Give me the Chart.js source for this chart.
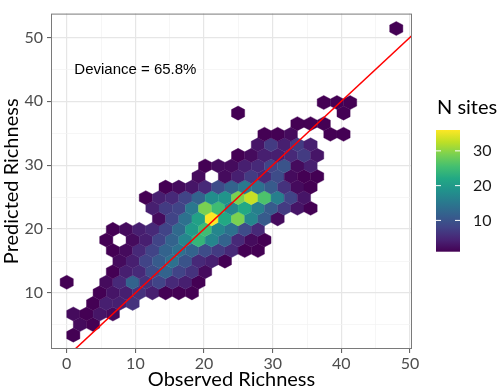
<!DOCTYPE html>
<html lang="en">
<head>
<meta charset="UTF-8">
<title>Predicted vs Observed Richness</title>
<script src="https://cdn.jsdelivr.net/npm/chart.js"></script>
<style>
  body { margin: 0; background: #fff; }
  canvas { display: block; }
</style>
</head>
<body>
<canvas id="hexChart" width="498" height="392"></canvas>
<script>
// hexbin grid. rows counted from the bottom,
// odd rows sit on x = 0, 1.92, 3.84 ... even rows are shifted half a bin
const binW = 1.92;
const binH = 1.655;
const yStart = 3.4;

// row index, first column in that row, counts per column (0 = empty bin)
const hexRow   = [0, 1, 2, 3, 4, 5, 6, 7, 8, 9, 10, 11, 12, 13, 14, 15, 16, 17, 18, 19, 20, 21, 22, 29];
const hexFirst = [0, 1, 0, 2, 2, 0, 3, 4, 3, 3, 3, 7, 6, 6, 7, 10, 10, 13, 14, 15, 17, 13, 19, 25];
const hexCounts = [
    [1],
    [2, 1],
    [2, 1, 3, 2],
    [1, 4, 4, 6],
    [1, 3, 4, 6, 4, 1, 1, 1],
    [1, 0, 0, 2, 5, 12, 6, 8, 5, 4, 1],
    [1, 4, 5, 9, 12, 8, 6, 2],
    [2, 4, 8, 11, 14, 10, 5, 4, 1],
    [1, 2, 5, 8, 12, 14, 12, 9, 7, 5, 1, 1],
    [1, 0, 2, 4, 8, 12, 17, 24, 17, 12, 5, 2, 1],
    [1, 2, 4, 5, 8, 13, 20, 25, 17, 14, 9, 5],
    [2, 8, 14, 21, 36, 22, 29, 17, 11, 2],
    [4, 7, 8, 15, 29, 25, 17, 22, 16, 11, 7, 3, 1],
    [1, 4, 5, 8, 12, 18, 19, 29, 33, 26, 16, 8, 3],
    [1, 2, 3, 5, 9, 12, 15, 14, 11, 6, 2, 1],
    [2, 0, 2, 4, 7, 5, 9, 2, 1, 1],
    [1, 2, 2, 4, 5, 8, 10, 2, 4],
    [1, 2, 4, 4, 5, 7, 3],
    [3, 7, 4, 7, 4],
    [1, 1, 2, 0, 0, 1, 1],
    [1, 1, 1],
    [1, 0, 0, 0, 0, 0, 0, 0, 1],
    [1, 1, 1],
    [1]
];

const xRange = [-2.29, 50.29];
const yRange = [1.23, 53.73];
const xTicks = [0, 10, 20, 30, 40, 50];
const yTicks = [10, 20, 30, 40, 50];
const legendTicks = [10, 20, 30];
const refLine = [-5, 60];   // 1:1 line
const devianceText = 'Deviance = 65.8%';
const deviancePos = [10, 45];

const viridis = ['#440154', '#482475', '#414487', '#355f8d', '#2a788e', '#21918c',
                 '#22a884', '#44bf70', '#7ad151', '#bddf26', '#fde725'];

const hexPoints = [];
hexRow.forEach((k, i) => {
    hexCounts[i].forEach((c, j) => {
        if (!c) return;
        const n = hexFirst[i] + j;
        hexPoints.push({ x: (n + (k % 2 ? 0 : 0.5)) * binW, y: yStart + k * binH, count: c });
    });
});
const cMin = Math.min(...hexPoints.map(p => p.count));
const cMax = Math.max(...hexPoints.map(p => p.count));

function hexToRgb(h) {
    return [1, 3, 5].map(i => parseInt(h.slice(i, i + 2), 16));
}
function viridisColor(t) {
    t = Math.max(0, Math.min(1, t)) * (viridis.length - 1);
    const i = Math.min(Math.floor(t), viridis.length - 2);
    const f = t - i;
    const a = hexToRgb(viridis[i]), b = hexToRgb(viridis[i + 1]);
    const c = a.map((v, j) => Math.round(v + (b[j] - v) * f));
    return `rgb(${c[0]},${c[1]},${c[2]})`;
}

function gridValues(lo, hi) {
    const out = [];
    for (let v = Math.ceil(lo / 5) * 5; v <= hi; v += 5) out.push(v);
    return out;
}
const isMajor = v => v % 10 === 0;

// hexagons drawn through the x / y scales
const hexLayer = {
    id: 'hexLayer',
    beforeDatasetsDraw(chart) {
        const { ctx, chartArea, scales: { x, y } } = chart;
        const r = binH / 1.5;
        const verts = [[0, r], [binW / 2, r / 2], [binW / 2, -r / 2], [0, -r], [-binW / 2, -r / 2], [-binW / 2, r / 2]];
        ctx.save();
        ctx.beginPath();
        ctx.rect(chartArea.left, chartArea.top, chartArea.width, chartArea.height);
        ctx.clip();
        chart.data.datasets[0].data.forEach(p => {
            const col = viridisColor((p.count - cMin) / (cMax - cMin));
            ctx.beginPath();
            verts.forEach(([dx, dy], j) => {
                const px = x.getPixelForValue(p.x + dx);
                const py = y.getPixelForValue(p.y + dy);
                j ? ctx.lineTo(px, py) : ctx.moveTo(px, py);
            });
            ctx.closePath();
            ctx.fillStyle = col;
            ctx.fill();
            ctx.strokeStyle = col;
            ctx.lineWidth = 0.4;
            ctx.stroke();
        });
        ctx.restore();
    }
};

// panel border, text label and colour bar
const overlay = {
    id: 'overlay',
    afterDraw(chart) {
        const { ctx, chartArea: a, scales: { x, y } } = chart;
        ctx.save();
        ctx.strokeStyle = '#7a7a7a';
        ctx.lineWidth = 1;
        ctx.strokeRect(a.left + 0.5, a.top + 0.5, a.width - 1, a.height - 1);

        ctx.fillStyle = '#000';
        ctx.font = '15px "Liberation Sans", Arial, sans-serif';
        ctx.textAlign = 'center';
        ctx.textBaseline = 'middle';
        ctx.fillText(devianceText, x.getPixelForValue(deviancePos[0]), y.getPixelForValue(deviancePos[1]));

        // colour bar
        const bar = { left: 436, top: 130, width: 24, height: 121.7 };
        const bottom = bar.top + bar.height;
        const grad = ctx.createLinearGradient(0, bottom, 0, bar.top);
        viridis.forEach((c, i) => grad.addColorStop(i / (viridis.length - 1), c));
        ctx.fillStyle = grad;
        ctx.fillRect(bar.left, bar.top, bar.width, bar.height);

        ctx.font = '20px Lato, sans-serif';
        ctx.fillStyle = '#000';
        ctx.textAlign = 'left';
        ctx.fillText('N sites', 437, 108);

        ctx.font = '16px Lato, sans-serif';
        ctx.fillStyle = '#1a1a1a';
        ctx.strokeStyle = '#fff';
        legendTicks.forEach(v => {
            const ty = bottom - (v - cMin) / (cMax - cMin) * bar.height;
            ctx.beginPath();
            ctx.moveTo(bar.left, ty); ctx.lineTo(bar.left + 5, ty);
            ctx.moveTo(bar.left + bar.width - 5, ty); ctx.lineTo(bar.left + bar.width, ty);
            ctx.stroke();
            ctx.fillText(String(v), 473, ty);
        });
        ctx.restore();
    }
};

const gridOpts = {
    color: c => isMajor(c.tick.value) ? '#e6e6e6' : '#f2f2f2',
    lineWidth: c => isMajor(c.tick.value) ? 1.2 : 0.7,
    tickColor: c => isMajor(c.tick.value) ? '#555' : 'rgba(0,0,0,0)',
    tickWidth: 1,
    tickLength: 4,
    drawTicks: true
};

new Chart(document.getElementById('hexChart'), {
    type: 'scatter',
    data: {
        datasets: [
            {
                label: 'N sites',
                data: hexPoints,
                pointRadius: 0,
                pointHoverRadius: 0
            },
            {
                type: 'line',
                label: '1:1',
                data: refLine.map(v => ({ x: v, y: v })),
                borderColor: '#ff0000',
                borderWidth: 1.5,
                pointRadius: 0,
                fill: false
            }
        ]
    },
    options: {
        responsive: false,
        animation: false,
        devicePixelRatio: 1,
        events: [],
        layout: { padding: { left: 0, top: 2, right: 86, bottom: 0 } },
        plugins: {
            legend: { display: false },
            tooltip: { enabled: false }
        },
        scales: {
            x: {
                type: 'linear',
                min: xRange[0],
                max: xRange[1],
                afterBuildTicks: s => { s.ticks = gridValues(xRange[0], xRange[1]).map(v => ({ value: v })); },
                afterFit: s => { s.height = 43; },
                ticks: {
                    autoSkip: false,
                    maxRotation: 0,
                    padding: 1,
                    color: '#4d4d4d',
                    font: { family: 'Lato', size: 16 },
                    callback: v => xTicks.includes(v) ? v : ''
                },
                grid: gridOpts,
                border: { display: false },
                title: {
                    display: true,
                    text: 'Observed Richness',
                    color: '#000',
                    font: { family: 'Lato', size: 20 },
                    padding: { top: 0, bottom: 0 }
                }
            },
            y: {
                type: 'linear',
                min: yRange[0],
                max: yRange[1],
                afterBuildTicks: s => { s.ticks = gridValues(yRange[0], yRange[1]).map(v => ({ value: v })); },
                afterFit: s => { s.width = 51; },
                ticks: {
                    autoSkip: false,
                    padding: 4,
                    color: '#4d4d4d',
                    font: { family: 'Lato', size: 16 },
                    callback: v => yTicks.includes(v) ? v : ''
                },
                grid: gridOpts,
                border: { display: false },
                title: {
                    display: true,
                    text: 'Predicted Richness',
                    color: '#000',
                    font: { family: 'Lato', size: 20 },
                    padding: { top: 0, bottom: 0 }
                }
            }
        }
    },
    plugins: [hexLayer, overlay]
});
</script>
</body>
</html>
